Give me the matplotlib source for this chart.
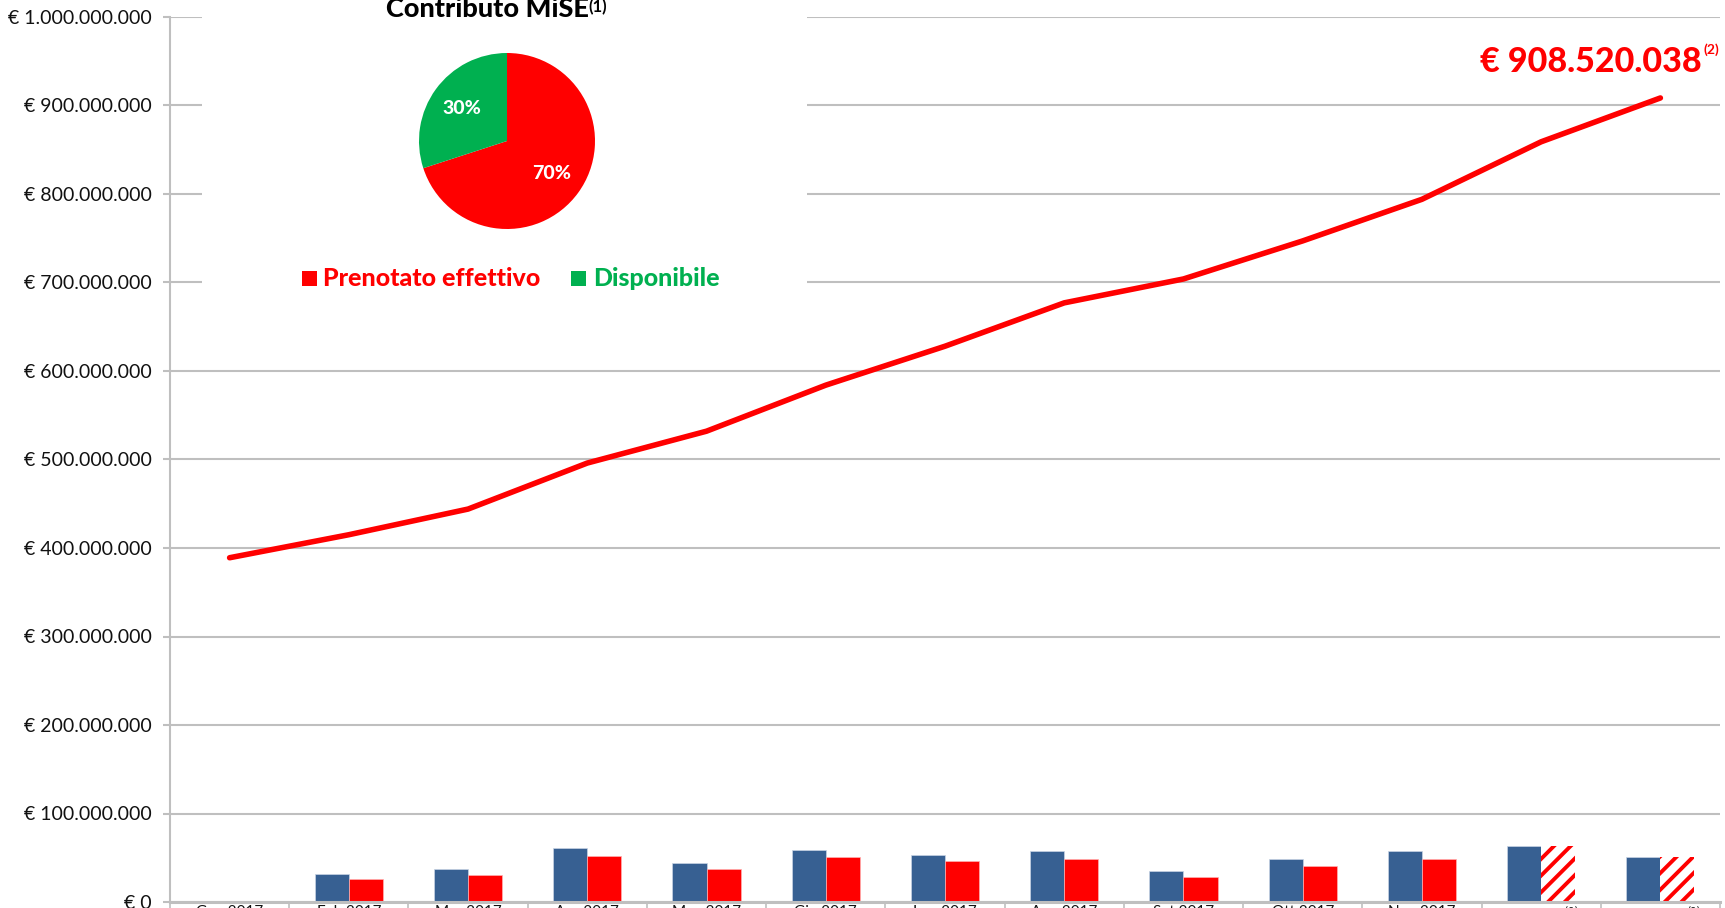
import numpy as np
import matplotlib
matplotlib.use("Agg")
import matplotlib.pyplot as plt
from matplotlib.patches import Rectangle
from matplotlib.ticker import FuncFormatter, MultipleLocator

plt.rcParams['font.family'] = ['Lato', 'DejaVu Sans']
plt.rcParams['mathtext.fontset'] = 'custom'
plt.rcParams['mathtext.rm'] = 'Lato'
plt.rcParams['hatch.linewidth'] = 2.8
plt.rcParams['hatch.color'] = 'red'

# dati
mesi = ['Gen 2017', 'Feb 2017', 'Mar 2017', 'Apr 2017', 'Mag 2017', 'Giu 2017',
        'Lug 2017', 'Ago 2017', 'Set 2017', 'Ott 2017', 'Nov 2017',
        'Dic 2017$^{(2)}$', 'Gen 2018$^{(2)}$']
mensile_blu = [1.5, 31.3, 36.9, 61.5, 44.1, 59.2, 53.1, 58.0, 35.4, 49.0, 58.0, 63.7, 51.2]  # milioni
mensile_rosso = [1.2, 25.6, 30.2, 52.4, 36.9, 50.9, 46.3, 49.0, 28.6, 41.0, 49.0, 63.7, 51.2]
stimato = [False] * 11 + [True, True]
cumulato = [389, 415, 444, 496, 532, 584, 628, 677, 704, 747, 794, 859, 908.520038]
totale = 908520038

torta_valori = [70, 30]
torta_etichette = ['Prenotato effettivo', 'Disponibile']
torta_colori = ['#FF0000', '#00B050']

W, H = 1725, 908
def fx(x):
    return x / W
def fy(y):
    return 1 - y / H

fig = plt.figure(figsize=(W / 100, H / 100), dpi=100)
ax = fig.add_axes([fx(170), fy(902), fx(1720) - fx(170), fy(17) - fy(902)])

x = np.arange(len(mesi))
bw = 0.286
blu = [v * 1e6 for v in mensile_blu]
rosso = [v * 1e6 for v in mensile_rosso]
ax.bar(x - bw / 2, blu, bw, color='#376092', edgecolor='#c9d4e4', linewidth=0.5, zorder=2)
for i in range(len(x)):
    if stimato[i]:
        ax.bar(x[i] + bw / 2, rosso[i], bw, facecolor='white', edgecolor='red',
               hatch='//', linewidth=0, zorder=2)
    else:
        ax.bar(x[i] + bw / 2, rosso[i], bw, color='#FF0000', edgecolor='#ffb0b0',
               linewidth=0.5, zorder=2)

ax.plot(x, [v * 1e6 for v in cumulato], color='#FF0000', linewidth=4,
        solid_capstyle='round', zorder=3)

ax.set_xlim(-0.5, len(mesi) - 0.5)
ax.set_ylim(0, 1e9)
ax.yaxis.set_major_locator(MultipleLocator(1e8))
ax.yaxis.set_major_formatter(FuncFormatter(lambda v, p: "€ " + f"{int(round(v)):,}".replace(",", ".")))
ax.set_xticks(x)
ax.set_xticklabels(mesi, fontsize=11)
ax.set_xticks(np.arange(-0.5, len(mesi)), minor=True)

grigio = '#BFBFBF'
ax.set_axisbelow(True)
ax.yaxis.grid(True, color=grigio, linewidth=1.5)
for s in ['top', 'right']:
    ax.spines[s].set_visible(False)
ax.spines['left'].set_color(grigio)
ax.spines['left'].set_linewidth(1.5)
ax.spines['bottom'].set_color(grigio)
ax.spines['bottom'].set_linewidth(2.2)
ax.tick_params(axis='y', direction='out', length=5, width=1.5, color=grigio,
               labelsize=14, pad=8, labelcolor='#111111')
ax.tick_params(axis='x', which='major', length=0, pad=2.5, labelcolor='#111111')
ax.tick_params(axis='x', which='minor', direction='out', length=7, width=1.2, color=grigio)

# riquadro bianco del grafico a torta
ax.add_patch(Rectangle((fx(202), fy(305)), fx(807) - fx(202), 1 - fy(305),
                       transform=fig.transFigure, facecolor='white', edgecolor='none',
                       zorder=1, clip_on=False))

# etichetta del totale
t2 = fig.text(fx(1702), fy(72), "€ " + f"{totale:,}".replace(",", "."), ha='right',
              va='baseline', fontsize=24.5, fontweight='black', color='#FF0000')
fig.text(fx(1703), fy(43), "(2)", ha='left', va='top', fontsize=10,
         fontweight='bold', color='#FF0000')

# grafico a torta
r = 88
pax = fig.add_axes([fx(507 - r), fy(141 + r), 2 * r / W, 2 * r / H])
wedges, testi, pct = pax.pie(torta_valori, colors=torta_colori, startangle=90,
                             counterclock=False, autopct='%d%%', pctdistance=0.63,
                             wedgeprops=dict(linewidth=0))
for p in pct:
    p.set_color('white')
    p.set_fontsize(14)
    p.set_fontweight('black')
pax.set_xlim(-1, 1)
pax.set_ylim(-1, 1)

tt = fig.text(fx(487), fy(17), "Contributo MiSE", ha='center', va='baseline', fontsize=19.5,
              fontweight='black', color='black')
fig.text(fx(588), fy(-1), "(1)", ha='left', va='top', fontsize=12,
         fontweight='bold', color='black')

# legenda
leg_x = [(302, 323), (571, 593)]
for (sx, tx), nome, col in zip(leg_x, torta_etichette, torta_colori):
    fig.patches.append(Rectangle((fx(sx), fy(286)), 15 / W, 15 / H,
                                 transform=fig.transFigure, facecolor=col,
                                 edgecolor='none'))
    fig.text(fx(tx), fy(286), nome, ha='left', va='baseline', fontsize=18,
             fontweight='black', color=col)

fig.savefig('out.png', dpi=100)
